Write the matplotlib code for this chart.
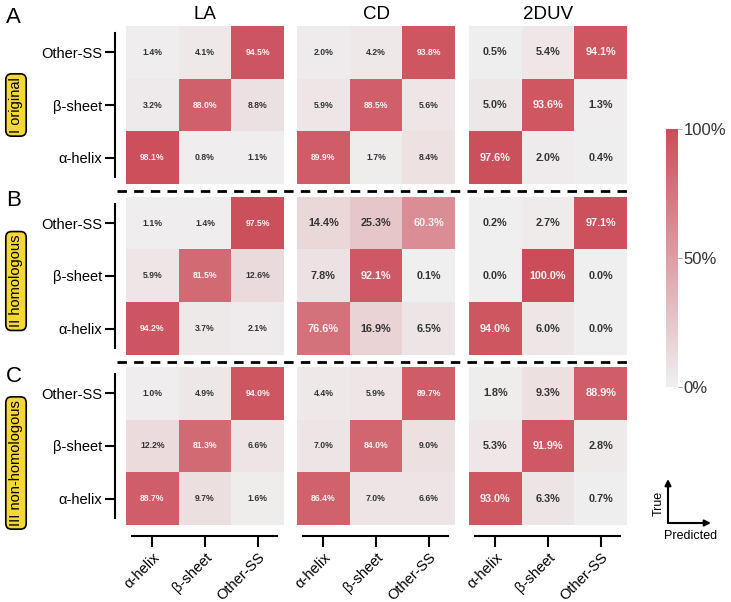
import numpy as np
import matplotlib
matplotlib.use("Agg")
import matplotlib.pyplot as plt
from matplotlib.colors import LinearSegmentedColormap
from matplotlib.lines import Line2D
from matplotlib.patches import FancyArrowPatch
import matplotlib.cm as cm
import matplotlib.colors as mcolors

plt.rcParams['font.family'] = ['Liberation Sans', 'DejaVu Sans']

classes = ["α-helix", "β-sheet", "Other-SS"]
methods = ["LA", "CD", "2DUV"]
scenarios = ["I original", "II homologous", "III non-homologous"]
panel_letters = ["A", "B", "C"]

# rows = true class (α-helix, β-sheet, Other-SS); cols = predicted class
A_LA = [[98.1, 0.8, 1.1], [3.2, 88.0, 8.8], [1.4, 4.1, 94.5]]
A_CD = [[89.9, 1.7, 8.4], [5.9, 88.5, 5.6], [2.0, 4.2, 93.8]]
A_2DUV = [[97.6, 2.0, 0.4], [5.0, 93.6, 1.3], [0.5, 5.4, 94.1]]
B_LA = [[94.2, 3.7, 2.1], [5.9, 81.5, 12.6], [1.1, 1.4, 97.5]]
B_CD = [[76.6, 16.9, 6.5], [7.8, 92.1, 0.1], [14.4, 25.3, 60.3]]
B_2DUV = [[94.0, 6.0, 0.0], [0.0, 100.0, 0.0], [0.2, 2.7, 97.1]]
C_LA = [[88.7, 9.7, 1.6], [12.2, 81.3, 6.6], [1.0, 4.9, 94.0]]
C_CD = [[86.4, 7.0, 6.6], [7.0, 84.0, 9.0], [4.4, 5.9, 89.7]]
C_2DUV = [[93.0, 6.3, 0.7], [5.3, 91.9, 2.8], [1.8, 9.3, 88.9]]

matrices = [[A_LA, A_CD, A_2DUV], [B_LA, B_CD, B_2DUV], [C_LA, C_CD, C_2DUV]]
big_text = {(0, 2), (1, 1), (1, 2), (2, 2)}

W, H = 731, 602
fig = plt.figure(figsize=(W / 100, H / 100), dpi=100)

cmap = LinearSegmentedColormap.from_list("cm", ["#f0efef", "#cc4d59"])
norm = mcolors.Normalize(0, 100)

col_x = [(126, 284), (297, 455), (469, 627)]
row_y = [(26, 184), (197, 355), (367, 525)]


def pos(x0, y0, x1, y1):
    return [x0 / W, 1 - y1 / H, (x1 - x0) / W, (y1 - y0) / H]


for r in range(3):
    for c in range(3):
        ax = fig.add_axes(pos(col_x[c][0], row_y[r][0], col_x[c][1], row_y[r][1]))
        m = np.array(matrices[r][c])
        ax.imshow(m, cmap=cmap, norm=norm, origin='lower', extent=(0, 3, 0, 3),
                  aspect='auto', interpolation='nearest')
        fs = 7.8 if (r, c) in big_text else 6.2
        for i in range(3):
            for j in range(3):
                v = m[i, j]
                col = '#fbf3f4' if v > 50 else '#333333'
                ax.text(j + 0.5, i + 0.5, f"{v:.1f}%", ha='center', va='center',
                        fontsize=fs, fontweight='bold', color=col)
        ax.set_xlim(0, 3)
        ax.set_ylim(0, 3)
        for s in ax.spines.values():
            s.set_visible(False)
        ax.set_xticks([])
        ax.set_yticks([])
        if c == 0:
            ax.spines['left'].set_visible(True)
            ax.spines['left'].set_position(('outward', 8))
            ax.spines['left'].set_bounds(0.13, 2.87)
            ax.spines['left'].set_linewidth(1.5)
            ax.set_yticks([0.5, 1.5, 2.5])
            ax.set_yticklabels(classes, fontsize=10.5)
            ax.tick_params(axis='y', length=7, width=1.5, pad=2)
        if r == 2:
            ax.spines['bottom'].set_visible(True)
            ax.spines['bottom'].set_position(('outward', 8))
            ax.spines['bottom'].set_bounds(0.11, 2.87)
            ax.spines['bottom'].set_linewidth(1.5)
            ax.set_xticks([0.5, 1.5, 2.5])
            ax.set_xticklabels(classes, fontsize=10.5, rotation=45, ha='right',
                               va='top', rotation_mode='anchor')
            ax.tick_params(axis='x', length=8, width=1.5, pad=2)
        if r == 0:
            ax.set_title(methods[c], fontsize=13.5, pad=5)

# panel letters and scenario labels
letter_base = [23, 206, 382]
box_center = [105, 281, 463]
for r in range(3):
    fig.text(6 / W, 1 - letter_base[r] / H, panel_letters[r], fontsize=16,
             ha='left', va='baseline')
    fig.text(16 / W, 1 - box_center[r] / H, scenarios[r], fontsize=10.5,
             rotation=90, ha='center', va='center',
             bbox=dict(boxstyle='round,pad=0.22,rounding_size=0.4',
                       fc='#f5d735', ec='black', lw=1.2))

# dashed separators
for yy in (191, 362):
    fig.add_artist(Line2D([117 / W, 632 / W], [1 - yy / H, 1 - yy / H],
                          transform=fig.transFigure, color='black', lw=2.0,
                          linestyle=(0, (3.4, 2.6))))

# colorbar
cax = fig.add_axes(pos(666, 129, 678, 387))
cb = fig.colorbar(cm.ScalarMappable(norm=norm, cmap=cmap), cax=cax)
cb.outline.set_visible(False)
cb.set_ticks([0, 50, 100])
cb.set_ticklabels(['0%', '50%', '100%'])
cax.tick_params(labelsize=12, length=3, width=0.6, color='#999999',
                labelcolor='#333333', pad=1)

# True / Predicted legend
corner = (668 / W, 1 - 523 / H)
for end in [(668 / W, 1 - 479 / H), (711 / W, 1 - 523 / H)]:
    fig.add_artist(FancyArrowPatch(corner, end, transform=fig.transFigure,
                                   arrowstyle='-|>', mutation_scale=9, lw=1.5,
                                   color='black', shrinkA=0, shrinkB=0))
fig.text(659 / W, 1 - 503 / H, 'True', rotation=90, fontsize=9,
         ha='center', va='center')
fig.text(691 / W, 1 - 536 / H, 'Predicted', fontsize=9, ha='center', va='center')

fig.savefig('out.png', dpi=100)
